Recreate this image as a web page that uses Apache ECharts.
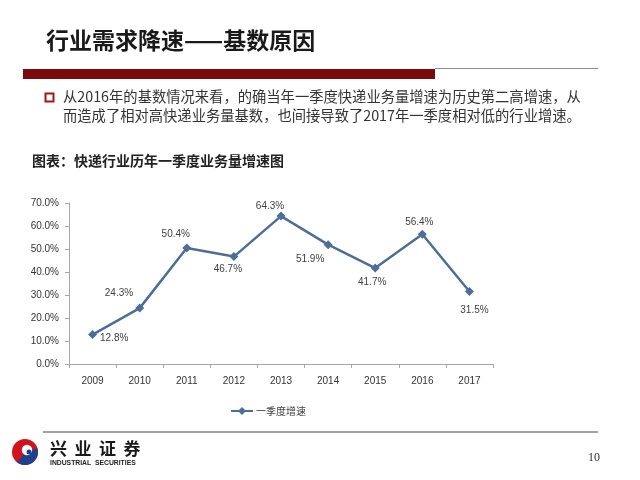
<!DOCTYPE html>
<html>
<head>
<meta charset="utf-8">
<script src="https://cdn.jsdelivr.net/npm/echarts@6/dist/echarts.min.js"></script>
<style>
html,body{margin:0;padding:0;background:#fff;}
#chart{width:640px;height:480px;}
</style>
</head>
<body>
<div id="chart"></div>
<script>
var years = ['2009','2010','2011','2012','2013','2014','2015','2016','2017'];
var growth = [12.8, 24.3, 50.4, 46.7, 64.3, 51.9, 41.7, 56.4, 31.5];
var labelPos = ['right','left','top','bottom','top','bottom','bottom','top','bottom'];
var labelOffset = [[-2,4],[3,-15],[-11,1],[-6,-2],[-11,5],[-18,0],[-3,0],[-3,2],[5,4]];
var seriesName = '一季度增速';

var pageTitle = '行业需求降速——基数原因';
var bodyLine1 = '从2016年的基数情况来看，的确当年一季度快递业务量增速为历史第二高增速，从';
var bodyLine2 = '而造成了相对高快递业务量基数，也间接导致了2017年一季度相对低的行业增速。';
var chartCaption = '图表：快递行业历年一季度业务量增速图';
var logoChars = ['兴','业','证','券'];
var logoSub = 'INDUSTRIAL  SECURITIES';
var pageNo = '10';

var chart = echarts.init(document.getElementById('chart'));
var cjk = '"Noto Sans CJK SC", "Noto Sans", sans-serif';
var lat = '"Liberation Sans", Arial, sans-serif';

var data = growth.map(function(v, i){
  return {
    value: v,
    label: { position: labelPos[i], offset: labelOffset[i] }
  };
});

var graphics = [
  { type: 'text', left: 46, top: 29, style: { text: pageTitle, font: 'bold 23px ' + cjk, fill: '#1a1a1a' } },
  { type: 'rect', shape: { x: 23, y: 69, width: 412, height: 10 }, style: { fill: '#7b0a0c' } },
  { type: 'line', shape: { x1: 435, y1: 68.5, x2: 598, y2: 68.5 }, style: { stroke: '#8c8c8c', lineWidth: 1 } },
  { type: 'rect', shape: { x: 45.5, y: 93.5, width: 8, height: 8 }, style: { fill: 'none', stroke: '#a6141a', lineWidth: 2 } },
  { type: 'text', left: 63, top: 89, style: { text: bodyLine1, font: '14.3px ' + cjk, fill: '#333333' } },
  { type: 'text', left: 63, top: 108, style: { text: bodyLine2, font: '14.3px ' + cjk, fill: '#333333' } },
  { type: 'text', left: 32, top: 154, style: { text: chartCaption, font: 'bold 14px ' + cjk, fill: '#222222' } },
  { type: 'line', shape: { x1: 43, y1: 432, x2: 598, y2: 432 }, style: { stroke: '#444444', lineWidth: 1.2 } },
  { type: 'circle', shape: { cx: 25, cy: 452, r: 13 }, style: { fill: '#d0141c' } },
  { type: 'sector', shape: { cx: 25, cy: 452, r: 13, r0: 0, startAngle: -0.3, endAngle: 2.2 }, style: { fill: '#1f3f8f' } },
  { type: 'circle', shape: { cx: 27, cy: 450, r: 5.2 }, style: { fill: '#ffffff' } },
  { type: 'circle', shape: { cx: 29, cy: 452, r: 2.5 }, style: { fill: '#1f3f8f' } },
  { type: 'text', left: 50, top: 460, style: { text: logoSub, font: 'bold 6.8px ' + lat, fill: '#222222' } },
  { type: 'text', left: 588, top: 452, style: { text: pageNo, font: '12px "Liberation Serif", serif', fill: '#333333' } }
];
logoChars.forEach(function(c, i){
  graphics.push({ type: 'text', left: 50 + i * 24.5, top: 440, style: { text: c, font: 'bold 17px ' + cjk, fill: '#1a1a1a' } });
});

chart.setOption({
  animation: false,
  backgroundColor: '#ffffff',
  grid: { left: 69, right: 147, top: 203, bottom: 116, containLabel: false },
  xAxis: {
    type: 'category',
    data: years,
    boundaryGap: true,
    axisLine: { lineStyle: { color: '#a6a6a6', width: 1 } },
    axisTick: { show: true, alignWithLabel: false, length: 4, lineStyle: { color: '#a6a6a6' } },
    axisLabel: { color: '#333333', fontSize: 10, fontFamily: lat, margin: 12 }
  },
  yAxis: {
    type: 'value',
    min: 0, max: 70, interval: 10,
    axisLine: { show: true, lineStyle: { color: '#a6a6a6', width: 1 } },
    axisTick: { show: true, length: 4, lineStyle: { color: '#a6a6a6' } },
    splitLine: { show: false },
    axisLabel: { color: '#333333', fontSize: 10, fontFamily: lat, margin: 10,
      formatter: function(v){ return v.toFixed(1) + '%'; } }
  },
  legend: {
    data: [seriesName],
    left: 225, top: 401,
    itemWidth: 22, itemHeight: 10, itemGap: 4,
    textStyle: { color: '#404040', fontSize: 10, fontFamily: cjk, padding: [0,0,0,-2] }
  },
  series: [{
    name: seriesName,
    type: 'line',
    data: data,
    symbol: 'diamond',
    symbolSize: 9,
    itemStyle: { color: '#4d6e99' },
    lineStyle: { color: '#4d6e99', width: 2.5 },
    label: {
      show: true,
      distance: 5,
      color: '#404040', fontSize: 10, fontFamily: lat,
      formatter: function(p){ return p.value.toFixed(1) + '%'; }
    }
  }],
  graphic: graphics
});
</script>
</body>
</html>
